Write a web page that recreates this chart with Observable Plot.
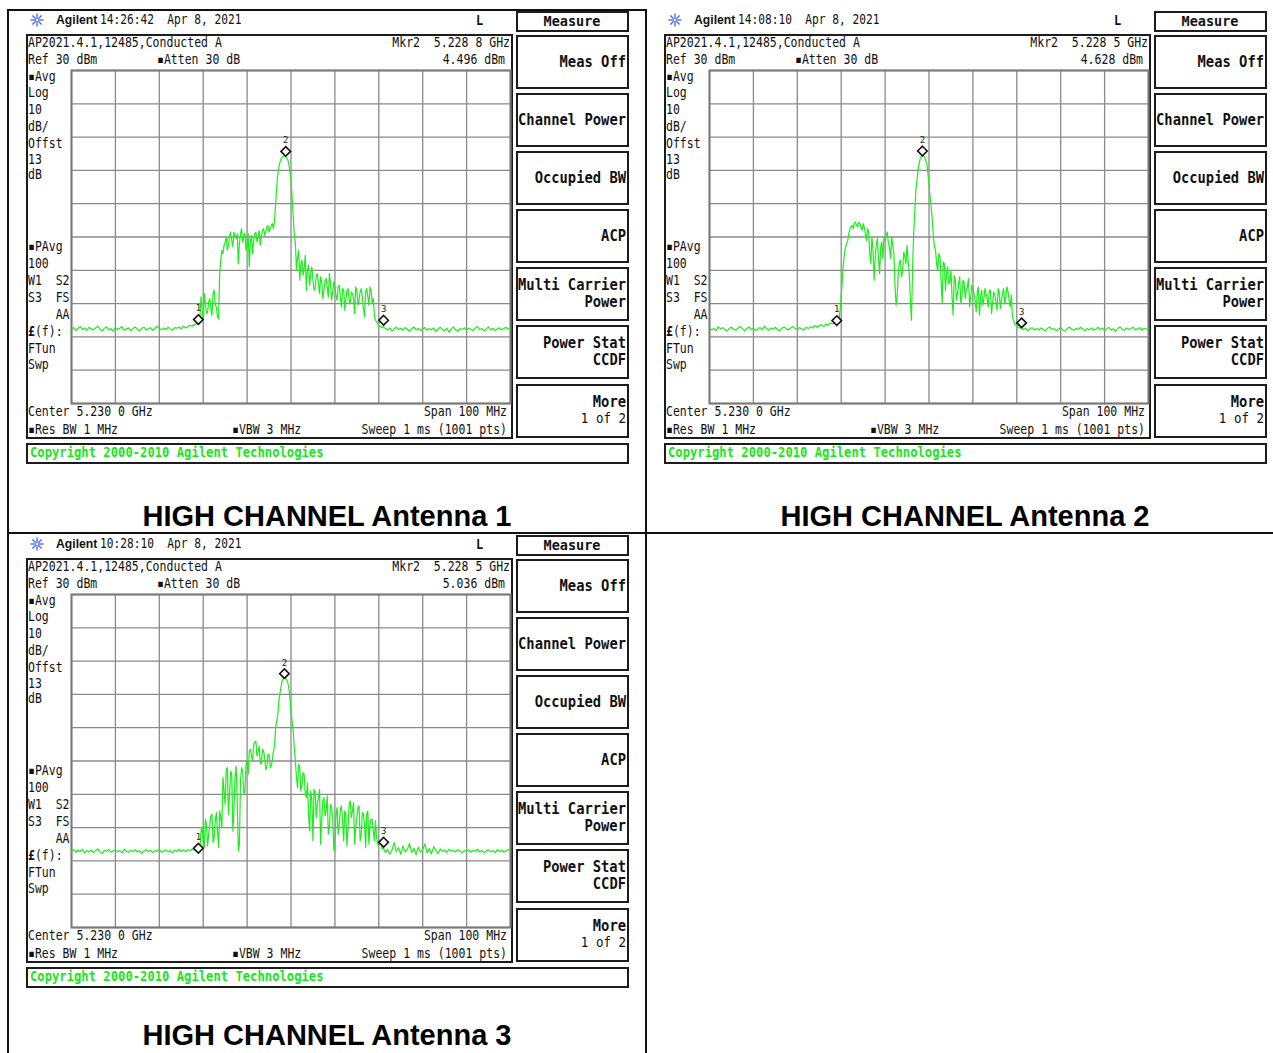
<!DOCTYPE html>
<html><head><meta charset="utf-8">
<script src="https://cdn.jsdelivr.net/npm/d3@7"></script>
<script src="https://cdn.jsdelivr.net/npm/@observablehq/plot@0.6"></script>
<style>
body{margin:0;background:#fff;}
#root{position:relative;width:1273px;height:1053px;overflow:hidden;background:#fff;}
.t{position:absolute;white-space:pre;font-family:"DejaVu Sans Mono",monospace;font-size:11.5px;line-height:1;color:#111;}
.box{position:absolute;box-sizing:border-box;border:2px solid #1c1c1c;background:#fff;}
.ln{position:absolute;background:#111;}
.cap{position:absolute;font-family:"Liberation Sans",Arial,sans-serif;font-weight:bold;font-size:29px;line-height:0.8;color:#000;white-space:pre;transform:translate(-50%,-50%);}
</style></head><body><div id="root"></div>
<script>
// ---------------- data ----------------
const sweepStartGHz = 5.180;
const sweepStepGHz = 0.0005;      // main points every 0.5 MHz over the 100 MHz span
const midStartGHz = 5.20825;      // extra in-between points (28.25 .. 70.75 MHz) in the signal region
const gridFreqTicks = [5.18, 5.19, 5.20, 5.21, 5.22, 5.23, 5.24, 5.25, 5.26, 5.27, 5.28];
const gridLevelTicks = [30, 20, 10, 0, -10, -20, -30, -40, -50, -60, -70];

const trace1 = [
-47.6,-47.2,-48.1,-47.4,-46.9,-47.8,-47.3,-48.0,-47.1,-47.6,
-47.9,-47.3,-46.8,-47.7,-48.2,-47.4,-47.0,-47.9,-47.5,-48.3,
-47.2,-47.8,-47.4,-46.9,-48.0,-47.6,-47.3,-48.1,-47.5,-47.0,
-47.7,-48.2,-47.4,-47.1,-47.9,-47.6,-47.2,-48.0,-47.4,-46.8,
-47.5,-47.9,-47.3,-47.8,-47.1,-47.6,-48.0,-47.2,-47.4,-47.0,
-47.6,-46.8,-47.3,-46.9,-46.5,-46.8,-46.2,-45.9,-46.0,-38.0,
-45.5,-40.0,-42.5,-38.5,-43.5,-36.0,-41.0,-44.5,-27.0,-25.0,
-21.5,-24.0,-19.5,-21.0,-18.5,-20.5,-28.0,-19.0,-21.5,-18.8,
-22.0,-29.0,-19.5,-21.0,-18.5,-20.0,-22.5,-18.0,-19.5,-17.0,
-18.5,-16.5,-17.5,-10.0,-1.0,2.5,4.0,4.3,3.8,2.0,
-3.0,-14.0,-22.0,-26.0,-33.0,-27.0,-29.5,-36.0,-28.5,-31.0,
-33.0,-35.5,-31.0,-37.0,-33.5,-36.0,-32.5,-38.0,-34.0,-36.5,
-35.0,-39.0,-34.5,-41.0,-36.0,-38.5,-35.5,-40.0,-37.0,-43.0,
-36.0,-39.0,-35.5,-41.5,-36.5,-38.0,-35.0,-40.0,-43.5,-45.5,
-46.5,-47.0,-46.8,-47.5,-47.9,-47.3,-48.2,-47.6,-47.1,-47.8,
-47.4,-48.0,-47.2,-47.7,-48.3,-47.5,-47.0,-47.9,-47.4,-48.1,
-47.6,-47.2,-48.0,-47.5,-47.9,-47.3,-48.4,-47.7,-47.1,-47.8,
-48.2,-47.4,-48.6,-47.6,-47.0,-47.9,-48.3,-47.5,-47.8,-47.2,
-48.0,-47.4,-47.7,-48.1,-47.3,-46.9,-47.8,-47.5,-48.2,-47.6,
-47.0,-47.9,-47.4,-48.1,-47.6,-47.3,-47.9,-47.5,-47.1,-47.7,-47.4
];
const trace1Mid = [
-46.3,-45.5,-44.0,-42.0,
-37.0,-43.0,-39.5,-41.5,-37.0,-40.5,-44.0,-31.0,-24.0,-22.5,
-20.0,-22.5,-18.5,-23.0,-20.0,-19.0,-22.0,-17.5,-20.0,-24.0,
-19.0,-21.5,-25.0,-19.0,-21.5,-18.0,-20.0,-17.5,-18.5,-16.5,
-17.5,-16.0,-15.0,-5.0,1.0,3.5,4.3,4.4,3.2,-0.5,
-8.0,-19.0,-30.0,-24.0,-28.0,-31.5,-25.5,-30.0,-34.5,-29.0,
-36.0,-31.5,-34.0,-32.0,-38.5,-33.0,-35.0,-31.0,-39.0,-33.5,
-37.5,-35.0,-38.0,-35.5,-42.0,-36.0,-39.0,-36.5,-38.5,-35.0,
-40.5,-36.5,-38.0,-44.0,-35.5,-40.5,-36.0,-38.5,-45.0,-46.0,
-46.8,-47.3
];
const trace2 = [
-47.3,-47.9,-47.5,-48.1,-47.0,-47.6,-47.2,-47.8,-48.3,-47.4,
-47.1,-47.7,-48.0,-47.3,-46.9,-47.6,-48.2,-47.5,-47.0,-47.8,
-47.4,-48.1,-47.6,-47.2,-47.9,-46.8,-47.5,-48.0,-47.3,-47.7,
-47.1,-47.8,-48.2,-47.4,-47.0,-47.6,-47.9,-47.3,-46.9,-47.5,
-47.8,-47.2,-47.6,-48.0,-47.1,-47.5,-46.9,-47.3,-46.6,-47.0,
-46.7,-46.3,-46.9,-46.2,-46.5,-45.8,-46.1,-45.6,-45.9,-45.0,
-38.0,-28.0,-23.0,-21.0,-17.5,-16.5,-15.8,-16.5,-15.5,-17.0,
-16.0,-19.0,-17.5,-25.0,-20.0,-33.0,-22.0,-27.0,-23.0,-26.5,
-21.0,-18.5,-23.0,-20.0,-25.0,-40.5,-31.0,-27.0,-30.0,-26.0,
-22.5,-31.0,-45.0,-19.0,-6.0,0.0,3.5,4.6,4.0,2.0,
-4.0,-11.0,-20.0,-24.0,-30.0,-26.0,-40.0,-28.0,-31.0,-34.0,
-30.0,-43.5,-33.0,-37.0,-32.0,-38.0,-33.5,-36.0,-32.5,-38.0,
-35.0,-39.0,-36.5,-43.5,-36.0,-38.5,-37.0,-41.0,-36.0,-39.5,
-37.5,-42.0,-36.5,-39.0,-35.5,-38.0,-36.5,-41.0,-44.0,-46.0,
-46.8,-47.3,-47.0,-47.8,-47.4,-48.1,-47.6,-47.2,-47.9,-47.5,
-48.0,-47.3,-47.7,-48.2,-47.4,-47.0,-47.8,-47.5,-48.1,-47.6,
-47.2,-47.9,-48.3,-47.5,-47.0,-47.7,-48.0,-47.4,-47.8,-47.1,
-47.6,-48.2,-47.5,-47.9,-47.3,-48.0,-47.6,-47.1,-47.8,-47.4,
-48.1,-47.5,-47.2,-47.9,-47.6,-48.3,-47.4,-47.0,-47.7,-48.0,
-47.3,-47.8,-47.5,-47.1,-47.9,-47.6,-47.2,-48.0,-47.4,-47.7,-47.5
];
const trace2Mid = [
-46.0,-45.4,-46.0,-42.0,
-33.0,-25.0,-22.0,-19.0,-16.8,-17.5,-15.5,-17.0,-16.0,-18.0,
-17.0,-21.0,-18.5,-28.0,-24.0,-26.0,-20.5,-31.0,-21.5,-20.0,
-19.5,-22.0,-26.5,-22.5,-34.0,-38.0,-27.5,-32.0,-24.5,-28.0,
-27.0,-39.0,-30.0,-13.0,-3.0,2.0,4.2,4.4,3.0,-1.0,
-8.0,-15.0,-23.0,-28.5,-25.0,-33.0,-27.5,-36.0,-29.0,-33.5,
-38.0,-31.5,-39.0,-34.0,-40.0,-33.0,-38.5,-35.0,-41.0,-34.5,
-37.0,-42.5,-35.0,-38.0,-40.5,-35.5,-38.5,-36.0,-43.0,-36.5,
-39.5,-35.5,-41.5,-37.0,-40.0,-35.0,-39.0,-37.5,-45.0,-46.5,
-47.0,-47.4
];
const trace3 = [
-47.0,-46.6,-47.4,-46.8,-47.2,-46.5,-47.6,-46.9,-47.3,-46.7,
-47.5,-46.9,-46.4,-47.2,-47.8,-46.8,-47.1,-46.6,-47.4,-47.0,
-46.7,-47.3,-46.9,-47.6,-46.5,-47.1,-47.4,-46.8,-47.2,-46.6,
-47.3,-46.9,-47.7,-47.0,-46.6,-47.2,-46.8,-47.5,-46.9,-47.1,
-46.6,-47.4,-47.0,-46.7,-47.3,-46.9,-47.6,-46.8,-47.2,-46.5,
-47.1,-46.7,-47.3,-46.6,-46.9,-46.4,-46.8,-45.8,-46.2,-41.0,
-44.0,-37.5,-45.5,-39.0,-36.0,-43.0,-35.5,-46.0,-37.0,-25.0,
-33.0,-22.0,-30.0,-24.0,-35.0,-21.5,-47.0,-26.0,-23.0,-29.0,
-20.0,-17.0,-18.5,-15.0,-14.0,-17.5,-20.5,-16.5,-19.0,-22.0,
-18.0,-21.5,-17.0,-10.0,-6.0,0.5,4.2,5.0,4.4,2.0,
-5.0,-11.0,-20.0,-28.0,-22.0,-27.0,-24.0,-31.0,-36.0,-29.0,
-44.0,-29.0,-33.0,-28.5,-38.0,-31.0,-35.0,-42.0,-33.0,-37.0,
-47.0,-34.0,-39.0,-33.5,-44.0,-36.0,-40.0,-32.0,-35.0,-45.0,
-37.0,-33.5,-42.0,-36.0,-46.0,-35.0,-39.0,-37.5,-44.0,-43.0,
-45.5,-44.5,-46.0,-47.5,-46.5,-48.0,-46.8,-44.5,-47.2,-46.0,
-48.0,-45.5,-47.3,-46.5,-44.8,-47.5,-46.2,-48.1,-45.9,-47.4,
-46.6,-44.9,-47.6,-46.3,-47.9,-45.7,-46.8,-47.8,-46.4,-47.2,
-46.7,-47.4,-46.5,-47.1,-46.8,-47.3,-46.6,-47.0,-47.5,-46.9,
-47.2,-46.6,-47.4,-46.8,-47.1,-46.5,-47.3,-46.9,-47.6,-47.0,
-46.7,-47.3,-46.9,-47.5,-46.6,-47.2,-46.8,-47.4,-47.0,-46.6,-47.1
];
const trace3Mid = [
-46.0,-45.0,-46.5,-40.0,
-46.0,-39.0,-42.0,-36.5,-44.5,-38.0,-41.0,-35.0,-40.0,-29.0,
-22.5,-36.0,-23.0,-41.0,-25.0,-32.0,-45.0,-22.0,-30.0,-21.0,
-24.0,-16.5,-20.0,-14.5,-18.5,-15.5,-21.0,-17.0,-22.5,-18.0,
-22.0,-19.5,-15.5,-8.0,-2.0,2.5,4.6,5.0,3.6,-1.0,
-8.0,-16.0,-25.0,-21.0,-29.0,-23.5,-30.0,-26.5,-41.0,-32.0,
-28.5,-37.0,-31.0,-45.0,-32.0,-36.5,-30.5,-40.0,-34.0,-46.5,
-36.0,-42.0,-34.5,-38.0,-35.0,-45.5,-33.0,-37.0,-32.5,-40.0,
-34.0,-44.0,-35.5,-39.0,-36.0,-45.0,-37.5,-41.0,-38.0,-45.0,
-44.0,-46.5
];

const markerNames = ["1", "2", "3"];
const markers1GHz = [5.2089, 5.2288, 5.2511];
const markers1dBm = [-46.0, 4.496, -46.2];
const markers2GHz = [5.2090, 5.2285, 5.2511];
const markers2dBm = [-46.3, 4.628, -47.0];
const markers3GHz = [5.2089, 5.2285, 5.2511];
const markers3dBm = [-47.4, 5.036, -45.6];

const headerTimes = ["14:26:42  Apr 8, 2021", "14:08:10  Apr 8, 2021", "10:28:10  Apr 8, 2021"];
const mkrFreqTexts = ["Mkr2  5.228 8 GHz", "Mkr2  5.228 5 GHz", "Mkr2  5.228 5 GHz"];
const mkrLevelTexts = ["4.496 dBm", "4.628 dBm", "5.036 dBm"];
const captions = ["HIGH CHANNEL Antenna 1", "HIGH CHANNEL Antenna 2", "HIGH CHANNEL Antenna 3"];
const menuItems = [["Meas Off"], ["Channel Power"], ["Occupied BW"], ["ACP"], ["Multi Carrier", "Power"], ["Power Stat", "CCDF"], ["More", "1 of 2"]];
const leftLabelsTop = ["\u25AAAvg", "Log", "10", "dB/", "Offst", "13", "dB"];
const leftLabelsBottom = ["\u25AAPAvg", "100", "W1  S2", "S3  FS", "    AA"];

// ---------------- helpers ----------------
const root = document.getElementById("root");
function T(s, x, y, o = {}) {
  const d = document.createElement("div");
  d.className = "t";
  if (o.html) d.innerHTML = s; else d.textContent = s;
  d.style.left = x + "px";
  d.style.top = y + "px";
  d.style.fontSize = (o.size || 11.5) + "px";
  if (o.bold) d.style.fontWeight = "bold";
  if (o.color) d.style.color = o.color;
  if (o.family) d.style.fontFamily = o.family;
  const tx = o.right ? "-100%" : (o.center ? "-50%" : "0");
  d.style.transform = `translate(${tx},-50%) scaleY(${o.sy || 1.2})`;
  d.style.transformOrigin = o.right ? "right center" : "left center";
  root.appendChild(d);
  return d;
}
function B(x, y, w, h) {
  const d = document.createElement("div");
  d.className = "box";
  Object.assign(d.style, {left: x + "px", top: y + "px", width: w + "px", height: h + "px"});
  root.appendChild(d);
  return d;
}
function L(x, y, w, h) {
  const d = document.createElement("div");
  d.className = "ln";
  Object.assign(d.style, {left: x + "px", top: y + "px", width: w + "px", height: h + "px"});
  root.appendChild(d);
}
function logo(cx, cy) {
  const ns = "http://www.w3.org/2000/svg";
  const s = document.createElementNS(ns, "svg");
  s.setAttribute("width", 16); s.setAttribute("height", 16);
  s.style.position = "absolute"; s.style.left = (cx - 8) + "px"; s.style.top = (cy - 8) + "px";
  for (let k = 0; k < 8; k++) {
    const a = k * Math.PI / 4;
    const l = document.createElementNS(ns, "line");
    l.setAttribute("x1", 8 + 2.2 * Math.cos(a)); l.setAttribute("y1", 8 + 2.2 * Math.sin(a));
    l.setAttribute("x2", 8 + 6.5 * Math.cos(a)); l.setAttribute("y2", 8 + 6.5 * Math.sin(a));
    l.setAttribute("stroke", "#4a6cf0"); l.setAttribute("stroke-width", 1.4);
    s.appendChild(l);
  }
  const c = document.createElementNS(ns, "circle");
  c.setAttribute("cx", 8); c.setAttribute("cy", 8); c.setAttribute("r", 1.8);
  c.setAttribute("fill", "none"); c.setAttribute("stroke", "#4a6cf0"); c.setAttribute("stroke-width", 1);
  s.appendChild(c);
  root.appendChild(s);
}

function tracePlot(trace, mid, mkGHz, mkDbm) {
  const pts = trace.map((v, i) => ({f: sweepStartGHz + i * sweepStepGHz, p: v}))
    .concat(mid.map((v, i) => ({f: midStartGHz + i * sweepStepGHz, p: v})))
    .sort((a, b) => a.f - b.f);
  const mk = mkGHz.map((f, i) => ({f, p: mkDbm[i], n: markerNames[i]}));
  return Plot.plot({
    width: 443, height: 337,
    marginTop: 2, marginBottom: 2, marginLeft: 2, marginRight: 2,
    x: {domain: [5.18, 5.28], axis: null},
    y: {domain: [-70, 30], axis: null},
    style: {background: "transparent", overflow: "visible"},
    marks: [
      Plot.ruleX(gridFreqTicks, {stroke: "#8a8a8a", strokeWidth: 1.3}),
      Plot.ruleY(gridLevelTicks, {stroke: "#8a8a8a", strokeWidth: 1.3}),
      Plot.frame({stroke: "#7a7a7a", strokeWidth: 2}),
      Plot.line(pts, {x: "f", y: "p", stroke: "#1bee1b", strokeWidth: 1.2}),
      Plot.dot(mk, {x: "f", y: "p", symbol: "diamond2", r: 4.3, stroke: "#111", strokeWidth: 1.6, fill: "#fff", dy: -4}),
      Plot.text(mk, {x: "f", y: "p", text: "n", dy: -15, fontSize: 9, fill: "#222", fontFamily: "DejaVu Sans Mono"})
    ]
  });
}

function panel(ox, oy, idx, trace, mid, mkGHz, mkDbm) {
  logo(ox + 37, oy + 20);
  T("Agilent", ox + 56, oy + 20, {family: "'Liberation Sans',Arial,sans-serif", bold: true, size: 12.2, sy: 1.1});
  T(headerTimes[idx], ox + 100, oy + 20, {size: 11.2, sy: 1.3});
  T("L", ox + 476, oy + 20, {size: 12, bold: true, sy: 1.2});
  B(ox + 26, oy + 34, 487, 405);
  T("AP2021.4.1,12485,Conducted A", ox + 28, oy + 43);
  T(mkrFreqTexts[idx], ox + 510, oy + 43, {right: true});
  T("Ref 30 dBm", ox + 28, oy + 60);
  T("\u25AAAtten 30 dB", ox + 157, oy + 60);
  T(mkrLevelTexts[idx], ox + 505, oy + 60, {right: true});
  const ys1 = [77, 93, 110, 127, 144, 160, 175];
  leftLabelsTop.forEach((s, i) => T(s, ox + 28, oy + ys1[i]));
  const ys2 = [247, 264, 281, 298, 315];
  leftLabelsBottom.forEach((s, i) => T(s, ox + 28, oy + ys2[i]));
  T("<b>\u00A3</b>(f):", ox + 28, oy + 332, {html: true});
  T("FTun", ox + 28, oy + 349);
  T("Swp", ox + 28, oy + 365);
  T("Center 5.230 0 GHz", ox + 28, oy + 412);
  T("Span 100 MHz", ox + 507, oy + 412, {right: true});
  T("\u25AARes BW 1 MHz", ox + 28, oy + 430);
  T("\u25AAVBW 3 MHz", ox + 232, oy + 430);
  T("Sweep 1 ms (1001 pts)", ox + 507, oy + 430, {right: true});
  const holder = document.createElement("div");
  holder.style.position = "absolute";
  holder.style.left = (ox + 69) + "px";
  holder.style.top = (oy + 68) + "px";
  holder.appendChild(tracePlot(trace, mid, mkGHz, mkDbm));
  root.appendChild(holder);
  B(ox + 516, oy + 11, 113, 21);
  T("Measure", ox + 572, oy + 21, {bold: true, size: 13.5, sy: 1.1, center: true});
  const tops = [35, 93, 151, 209, 267, 325, 384];
  menuItems.forEach((lines, i) => {
    B(ox + 516, oy + tops[i], 113, 54);
    const cy = oy + tops[i] + 27;
    if (lines.length === 1) {
      T(lines[0], ox + 626, cy, {right: true, bold: true, size: 13.8, sy: 1.1});
    } else {
      T(lines[0], ox + 626, cy - 9, {right: true, bold: true, size: 13.8, sy: 1.1});
      T(lines[1], ox + 626, cy + 8, {right: true, bold: i !== 6, size: i === 6 ? 12.5 : 13.8, sy: 1.1});
    }
  });
  B(ox + 26, oy + 443, 603, 21);
  T("Copyright 2000-2010 Agilent Technologies", ox + 30, oy + 453, {bold: true, color: "#19e619", size: 12.2, sy: 1.15});
}

L(7, 9, 640, 2);
L(7, 9, 2, 1044);
L(645, 9, 2, 1044);
L(7, 532, 1266, 2);

panel(0, 0, 0, trace1, trace1Mid, markers1GHz, markers1dBm);
panel(638, 0, 1, trace2, trace2Mid, markers2GHz, markers2dBm);
panel(0, 524, 2, trace3, trace3Mid, markers3GHz, markers3dBm);

const capPos = [[327, 517], [965, 517], [327, 1036]];
captions.forEach((c, i) => {
  const d = document.createElement("div");
  d.className = "cap";
  d.textContent = c;
  d.style.left = capPos[i][0] + "px";
  d.style.top = capPos[i][1] + "px";
  root.appendChild(d);
});
</script></body></html>
